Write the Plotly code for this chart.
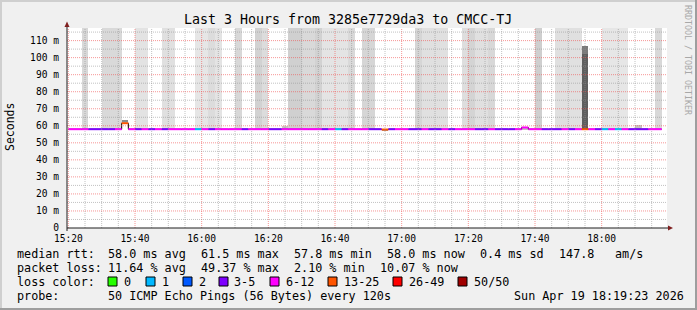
import plotly.graph_objects as go
from datetime import datetime, timedelta

# ---------------- data ----------------
T0 = datetime(2026, 4, 19, 15, 20, 0)   # start of first 2-min step
STEP_S = 120
VIEW_START = datetime(2026, 4, 19, 15, 19, 36)
VIEW_END = datetime(2026, 4, 19, 18, 19, 36)

title = "Last 3 Hours from 3285e7729da3 to CMCC-TJ"

loss_labels = ["0", "1", "2", "3-5", "6-12", "13-25", "26-49", "50/50"]
loss_colors = ["#26ff00", "#00b8ff", "#0059ff", "#7e00ff", "#ff00ff", "#ff5500", "#ff0000", "#a10000"]

# median rtt (ms) per 2-minute step, starting 15:20
median_ms = [
    58.0, 58.0, 58.0, 58.0, 58.0, 58.0, 58.0, 58.0, 61.5, 58.0,
    58.0, 58.0, 58.0, 58.0, 58.0, 58.0, 58.0, 58.0, 58.0, 58.0,
    58.0, 58.0, 58.0, 58.0, 58.0, 58.0, 58.0, 58.0, 58.0, 58.0,
    58.0, 58.0, 58.0, 58.0, 58.0, 58.0, 58.0, 58.0, 58.0, 58.0,
    58.0, 58.0, 58.0, 58.0, 58.0, 58.0, 58.0, 57.8, 58.0, 58.0,
    58.0, 58.0, 58.0, 58.0, 58.0, 58.0, 58.0, 58.0, 58.0, 58.0,
    58.0, 58.0, 58.0, 58.0, 58.0, 58.0, 58.0, 58.0, 59.0, 58.0,
    58.0, 58.0, 58.0, 58.0, 58.0, 58.0, 58.0, 58.0, 58.0, 58.0,
    58.0, 58.0, 58.0, 58.0, 58.0, 58.0, 58.0, 58.0, 58.0,
]
# loss bucket index (into loss_labels) per step
loss_bucket = [
    4, 4, 4, 3, 3, 3, 3, 4, 5, 4,
    3, 4, 3, 4, 3, 4, 4, 4, 4, 1,
    4, 3, 4, 4, 4, 4, 3, 4, 4, 4,
    3, 3, 4, 4, 4, 4, 4, 4, 3, 4,
    1, 3, 4, 4, 4, 3, 3, 5, 3, 4,
    4, 3, 3, 4, 3, 3, 4, 3, 4, 4,
    4, 3, 3, 4, 3, 3, 3, 4, 4, 4,
    4, 3, 3, 3, 4, 3, 4, 5, 4, 3,
    1, 4, 1, 4, 3, 3, 3, 4, 4,
]

# smoke (ping spread) per step: step index, low ms, high ms, grey shade
smoke_step = [2, 5, 6, 7, 10, 11, 14, 15, 19, 20, 21, 22, 25, 28, 29,
              33, 34, 35, 36, 37, 38, 39, 40, 41, 42, 44, 45,
              52, 53, 54, 55, 56, 59, 60, 61, 62, 63, 70,
              73, 74, 75, 76, 77, 77, 80, 81, 82, 83, 88,
              8, 32, 47, 68, 85]
smoke_lo = [58.0] * 42 + [58.0, 102.0] + [58.0] * 5 + [62.0, 58.0, 57.0, 58.0, 58.0]
smoke_hi = [125.0] * 42 + [102.0, 107.0] + [125.0] * 5 + [63.4, 60.0, 57.8, 59.0, 60.5]
smoke_gray = ["#d8d8d8", "#d9d9d9", "#d9d9d9", "#d9d9d9", "#e3e3e3", "#e3e3e3",
              "#e0e0e0", "#e0e0e0", "#e6e6e6", "#e6e6e6", "#dcdcdc", "#e4e4e4",
              "#d8d8d8", "#d2d2d2", "#dcdcdc",
              "#d0d0d0", "#d0d0d0", "#d9d9d9", "#d9d9d9", "#d2d2d2",
              "#e4e4e4", "#e4e4e4", "#e4e4e4", "#e4e4e4", "#d9d9d9",
              "#d6d6d6", "#d6d6d6",
              "#d6d6d6", "#e0e0e0", "#e0e0e0", "#e0e0e0", "#e0e0e0",
              "#dedede", "#d4d4d4", "#e0e0e0", "#e0e0e0", "#d8d8d8", "#cfcfcf",
              "#e0e0e0", "#e0e0e0", "#e0e0e0", "#e0e0e0", "#5e5e5e", "#7a7a7a",
              "#e6e6e6", "#e6e6e6", "#e6e6e6", "#e6e6e6", "#d8d8d8",
              "#8a8a8a", "#c8c8c8", "#a0a0a0", "#c0c0c0", "#c4c4c4"]

y_tick_vals = [0, 10, 20, 30, 40, 50, 60, 70, 80, 90, 100, 110]
y_tick_text = ["0", "10 m", "20 m", "30 m", "40 m", "50 m", "60 m", "70 m",
               "80 m", "90 m", "100 m", "110 m"]

rtt_stat_vals = ["58.0", "61.5", "57.8", "58.0"]
loss_stat_vals = ["11.64", "49.37", "2.10", "10.07"]
stat_names = ["avg", "max", "min", "now"]
rtt_sd = "0.4"
rtt_ams = "147.8"
probe_text = "50 ICMP Echo Pings (56 Bytes) every 120s"
stamp_text = "Sun Apr 19 18:19:23 2026"

# ---------------- layout helpers ----------------
W, H = 697, 310
PL, PR, PT, PB = 67, 667, 28, 228
FONT = "DejaVu Sans Mono"


def px(x):
    return (x - PL) / (PR - PL)


def py(y):
    return (PB - y) / (PB - PT)


def t_of(i):
    return T0 + timedelta(seconds=STEP_S * i)


fig = go.Figure()

# smoke bars
fig.add_trace(go.Bar(
    x=[t_of(s) + timedelta(seconds=STEP_S / 2) for s in smoke_step],
    y=[h - l for l, h in zip(smoke_lo, smoke_hi)],
    base=smoke_lo,
    width=[STEP_S * 1000] * len(smoke_step),
    marker=dict(color=smoke_gray, line=dict(width=0)),
    hoverinfo="skip", showlegend=False,
))

# black step outline of the median
n = len(median_ms)
fig.add_trace(go.Scatter(
    x=[t_of(i) for i in range(n)] + [t_of(n)],
    y=median_ms + [median_ms[-1]],
    mode="lines", line=dict(color="#000000", width=1, shape="hv"),
    hoverinfo="skip", showlegend=False,
))

# coloured median segments by loss bucket
for b, col in enumerate(loss_colors):
    xs, ys = [], []
    for i in range(n):
        if loss_bucket[i] == b:
            xs += [t_of(i), t_of(i + 1), None]
            ys += [median_ms[i], median_ms[i], None]
    if xs:
        fig.add_trace(go.Scatter(x=xs, y=ys, mode="lines",
                                 line=dict(color=col, width=2),
                                 hoverinfo="skip", showlegend=False))

shapes = []
# grid drawn above data (rrdtool style)
minor_col = "rgba(143,143,143,0.55)"
major_col = "rgba(240,80,80,0.6)"
for k in range(0, 181, 5):
    tx = T0 + timedelta(minutes=k)
    if tx > VIEW_END:
        break
    col = major_col if k % 20 == 0 else minor_col
    shapes.append(dict(type="line", xref="x", yref="paper", x0=tx, x1=tx, y0=0, y1=1,
                       line=dict(color=col, width=1, dash="1px,1px"), layer="above"))
for v in range(5, 116, 5):
    col = major_col if v % 10 == 0 else minor_col
    shapes.append(dict(type="line", xref="paper", yref="y", x0=0, x1=1, y0=v, y1=v,
                       line=dict(color=col, width=1, dash="1px,1px"), layer="above"))

# axes lines and arrows
shapes.append(dict(type="line", xref="paper", yref="paper", x0=px(PL), x1=px(670),
                   y0=py(PB), y1=py(PB), line=dict(color="#1f1f1f", width=1), layer="above"))
shapes.append(dict(type="line", xref="paper", yref="paper", x0=px(PL), x1=px(PL),
                   y0=py(PB + 3), y1=py(25), line=dict(color="#1f1f1f", width=1), layer="above"))
shapes.append(dict(type="path", xref="paper", yref="paper",
                   path="M {} {} L {} {} L {} {} Z".format(px(668), py(225.5), px(673), py(228), px(668), py(230.5)),
                   fillcolor="#7f1f1f", line=dict(width=0), layer="above"))
shapes.append(dict(type="path", xref="paper", yref="paper",
                   path="M {} {} L {} {} L {} {} Z".format(px(64.5), py(27), px(67), py(21.5), px(69.5), py(27)),
                   fillcolor="#7f1f1f", line=dict(width=0), layer="above"))

# frame shading
shapes.append(dict(type="rect", xref="paper", yref="paper", x0=px(0), x1=px(W), y0=py(0), y1=py(2),
                   fillcolor="#cfcfcf", line=dict(width=0)))
shapes.append(dict(type="rect", xref="paper", yref="paper", x0=px(0), x1=px(2), y0=py(0), y1=py(H),
                   fillcolor="#cfcfcf", line=dict(width=0)))
shapes.append(dict(type="rect", xref="paper", yref="paper", x0=px(0), x1=px(W), y0=py(H - 2), y1=py(H),
                   fillcolor="#9e9e9e", line=dict(width=0)))
shapes.append(dict(type="rect", xref="paper", yref="paper", x0=px(W - 2), x1=px(W), y0=py(0), y1=py(H),
                   fillcolor="#9e9e9e", line=dict(width=0)))

# loss colour swatches
sw_x = [108, 146, 183, 219, 270, 328, 393, 458]
lab_x = [123, 161, 198, 233, 285, 343, 408, 473]
for c, x0 in zip(loss_colors, sw_x):
    shapes.append(dict(type="rect", xref="paper", yref="paper", x0=px(x0), x1=px(x0 + 9),
                       y0=py(277), y1=py(286), fillcolor=c,
                       line=dict(color="#000000", width=1)))

ann = []


def text(x, y, s, size=11.75, anchor="left", color="#000000", angle=0):
    ann.append(dict(xref="paper", yref="paper", x=px(x), y=py(y), text=s, showarrow=False,
                    xanchor=anchor, yanchor="middle", textangle=angle, borderpad=0,
                    font=dict(family=FONT, size=size, color=color)))


text(348, 19, title, size=13.3, anchor="center")
text(10, 127, "Seconds", size=11.5, anchor="center", angle=-90)
text(688, 60, "RRDTOOL / TOBI OETIKER", size=8.3, anchor="center", color="#a8a8a8", angle=90)

row_y = [254, 268, 282, 296]
col_x = [107, 200, 293, 386]
text(16, row_y[0], "median rtt:")
for xx, v, nm in zip(col_x, rtt_stat_vals, stat_names):
    text(xx, row_y[0], "{} ms {}".format(v, nm))
text(479, row_y[0], "{} ms sd".format(rtt_sd))
text(558, row_y[0], rtt_ams)
text(614, row_y[0], "am/s")

text(16, row_y[1], "packet loss:")
loss_x = [107, 200, 293, 379]
for xx, v, nm in zip(loss_x, loss_stat_vals, stat_names):
    text(xx, row_y[1], "{} % {}".format(v, nm))

text(16, row_y[2], "loss color:")
for lbl, xx in zip(loss_labels, lab_x):
    text(xx, row_y[2], lbl)

text(16, row_y[3], "probe:")
text(107, row_y[3], probe_text)
text(513, row_y[3], stamp_text)

x_ticks = [T0 + timedelta(minutes=20 * k) for k in range(9)]

fig.update_layout(
    width=W, height=H,
    margin=dict(l=PL, r=W - PR, t=PT, b=H - PB, pad=0),
    paper_bgcolor="#f0f0f0", plot_bgcolor="#ffffff",
    barmode="overlay", bargap=0,
    showlegend=False,
    font=dict(family=FONT, size=9.6, color="#000000"),
    shapes=shapes, annotations=ann,
    xaxis=dict(range=[VIEW_START, VIEW_END], showgrid=False, zeroline=False,
               tickvals=x_ticks, ticktext=[t.strftime("%H:%M") for t in x_ticks],
               ticks="", showline=False, tickfont=dict(family=FONT, size=9.6),
               ticklabelstandoff=3),
    yaxis=dict(range=[0, 117.4], showgrid=False, zeroline=False,
               tickvals=y_tick_vals, ticktext=y_tick_text, ticks="", showline=False,
               tickfont=dict(family=FONT, size=9.6), ticklabelstandoff=7),
)

fig.write_html("out.html")
